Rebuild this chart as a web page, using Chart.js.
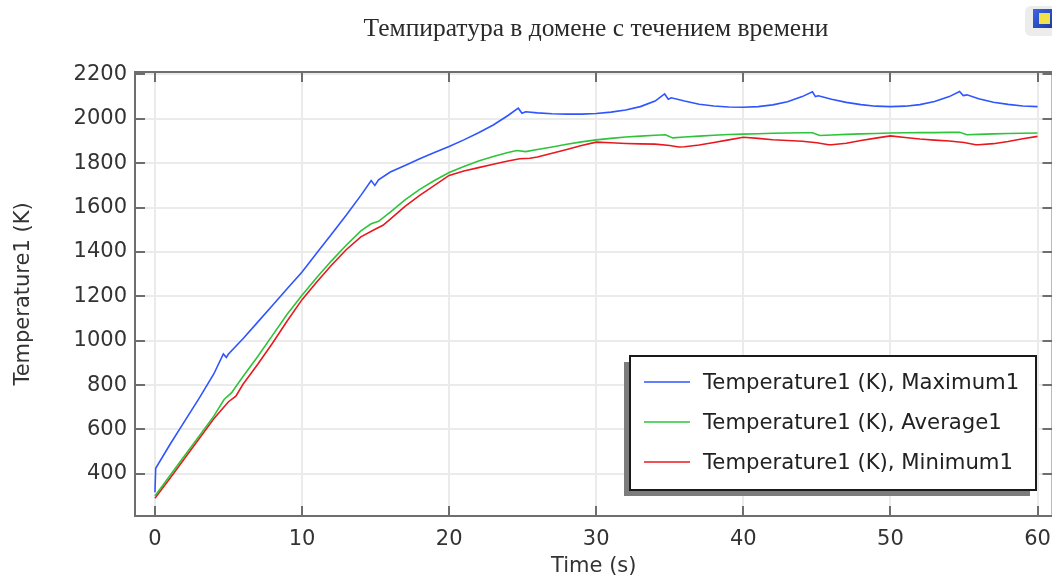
<!DOCTYPE html>
<html><head><meta charset="utf-8">
<script src="https://cdn.jsdelivr.net/npm/chart.js@4.4.0/dist/chart.umd.min.js"></script>
<style>
html,body{margin:0;padding:0;background:#fff;overflow:hidden;width:1052px;height:576px;}
#wrap{position:relative;width:1062px;height:600px;}
canvas{display:block;}
</style></head><body>
<div id="wrap"><canvas id="c" width="1062" height="600"></canvas></div>
<script>
const chartTitle = 'Темпиратура в домене с течением времени';
const xAxisTitle = 'Time (s)';
const yAxisTitle = 'Temperature1 (K)';
const seriesLabels = ['Temperature1 (K), Maximum1', 'Temperature1 (K), Average1', 'Temperature1 (K), Minimum1'];
const seriesColors = ['#2f55ff', '#2ec43a', '#e8191e'];
const xTicks = [0, 10, 20, 30, 40, 50, 60];
const yTicks = [400, 600, 800, 1000, 1200, 1400, 1600, 1800, 2000, 2200];

const timeMax = [0,0.05,1,2,3,4,4.65,4.85,5.0,6,7,8,9,10,11,12,13,14,14.7,14.95,15.2,16,17,18,19,20,21,22,23,24,24.7,24.95,25.2,26,27,28,29,30,31,32,33,34,34.65,34.9,35.1,36,37,38,39,40,41,42,43,44,44.7,44.9,45.1,46,47,48,49,50,51,52,53,54,54.7,54.95,55.2,56,57,58,59,60];
const tempMax = [317,425,530,635,740,850,940,925,940,1010,1085,1160,1235,1310,1395,1480,1565,1655,1722,1700,1725,1760,1790,1820,1848,1875,1905,1937,1972,2015,2048,2025,2032,2027,2023,2021,2021,2024,2030,2040,2055,2080,2112,2088,2095,2080,2066,2058,2053,2052,2055,2063,2077,2100,2122,2100,2104,2088,2074,2064,2057,2055,2057,2064,2078,2100,2123,2105,2108,2090,2075,2065,2058,2055];

const timeAvg = [0,1,2,3,4,4.7,5.2,6,7,8,9,10,11,12,13,14,14.7,15.2,16,17,18,19,20,21,22,23,24,24.6,25.2,26,27,28,29,30,31,32,33,34,34.7,35.2,36,37,38,39,40,41,42,43,44,44.7,45.2,46,47,48,49,50,51,52,53,54,54.7,55.2,56,57,58,59,60];
const tempAvg = [300,390,480,570,660,735,765,840,930,1025,1120,1205,1285,1360,1430,1495,1527,1538,1580,1635,1682,1722,1758,1785,1810,1830,1848,1857,1852,1862,1873,1885,1896,1905,1912,1918,1922,1926,1928,1914,1918,1922,1926,1929,1931,1933,1935,1936,1937,1937,1925,1927,1930,1932,1934,1936,1937,1938,1938,1939,1939,1928,1930,1932,1934,1935,1936];

const timeMin = [0,1,2,3,4,5,5.5,6,7,8,9,10,11,12,13,14,14.9,15.5,16,17,18,19,20,21,22,23,24,24.8,25.5,26,27,28,29,30,31,32,33,34,35,35.6,36,37,38,39,40,41,42,43,44,45,45.8,46,47,48,49,50,51,52,53,54,55,55.8,56,57,58,59,60];
const tempMin = [290,378,468,558,648,725,750,805,895,990,1090,1185,1265,1340,1410,1468,1500,1520,1548,1605,1655,1700,1745,1765,1780,1795,1810,1820,1822,1828,1845,1862,1880,1895,1892,1889,1887,1886,1880,1873,1874,1882,1893,1905,1917,1912,1906,1902,1899,1892,1883,1883,1890,1902,1913,1923,1916,1909,1904,1900,1893,1883,1883,1888,1898,1910,1921];

const toXY = (xs, ys) => xs.map((x, i) => ({x: x, y: ys[i]}));

const FONT = 'DejaVu Sans';
const AXIS_COLOR = '#6e6e6e';
const TEXT_COLOR = '#333333';

const framePlugin = {
  id: 'frame',
  beforeDatasetsDraw(chart) {
    const {ctx, chartArea: a, scales: {x, y}} = chart;
    ctx.save();
    ctx.strokeStyle = AXIS_COLOR;
    ctx.lineWidth = 2;
    ctx.beginPath();
    const tl = 10;
    xTicks.forEach(v => {
      const px = Math.round(x.getPixelForValue(v));
      ctx.moveTo(px, a.bottom); ctx.lineTo(px, a.bottom - tl);
      ctx.moveTo(px, a.top); ctx.lineTo(px, a.top + tl);
    });
    yTicks.forEach(v => {
      const py = Math.round(y.getPixelForValue(v));
      ctx.moveTo(a.left, py); ctx.lineTo(a.left + tl, py);
      ctx.moveTo(a.right, py); ctx.lineTo(a.right - tl, py);
    });
    ctx.stroke();
    ctx.strokeRect(a.left, a.top, a.right - a.left, a.bottom - a.top);
    ctx.restore();
  },
  afterDraw(chart) {
    const {ctx, chartArea: a} = chart;
    ctx.save();
    // title
    ctx.fillStyle = '#2a2a2a';
    ctx.font = '25.5px "Liberation Serif"';
    ctx.textAlign = 'center';
    ctx.textBaseline = 'middle';
    ctx.fillText(chartTitle, 596, 29);
    // legend
    const bx = 630, by = 356, bw = 406, bh = 134;
    ctx.fillStyle = '#7c7c7c';
    ctx.fillRect(bx - 6, by + 6, bw, bh);
    ctx.fillStyle = '#ffffff';
    ctx.fillRect(bx, by, bw, bh);
    ctx.strokeStyle = '#1a1a1a';
    ctx.lineWidth = 2;
    ctx.strokeRect(bx, by, bw, bh);
    ctx.font = '21.2px "' + FONT + '"';
    ctx.textAlign = 'left';
    ctx.textBaseline = 'middle';
    chart.data.datasets.forEach((ds, i) => {
      const ly = 382 + i * 40;
      ctx.strokeStyle = ds.borderColor;
      ctx.lineWidth = 1.6;
      ctx.beginPath(); ctx.moveTo(644, ly); ctx.lineTo(690, ly); ctx.stroke();
      ctx.fillStyle = '#222222';
      ctx.fillText(ds.label, 703, ly + 1);
    });
    // toolbar icon (top right)
    ctx.fillStyle = '#ececec';
    ctx.beginPath(); ctx.roundRect(1025, 6, 40, 30, 6); ctx.fill();
    const g = ctx.createLinearGradient(1033, 9, 1052, 28);
    g.addColorStop(0, '#3c66e0'); g.addColorStop(1, '#1c3aa8');
    ctx.fillStyle = g;
    ctx.fillRect(1033, 9, 30, 19);
    ctx.fillStyle = '#f1e24a';
    ctx.fillRect(1039, 13, 11, 11);
    ctx.restore();
  }
};

const tickFont = {family: FONT, size: 21};

new Chart(document.getElementById('c'), {
  type: 'line',
  data: {
    datasets: [
      {label: seriesLabels[0], data: toXY(timeMax, tempMax), borderColor: seriesColors[0]},
      {label: seriesLabels[1], data: toXY(timeAvg, tempAvg), borderColor: seriesColors[1]},
      {label: seriesLabels[2], data: toXY(timeMin, tempMin), borderColor: seriesColors[2]}
    ].map(d => Object.assign(d, {borderWidth: 1.6, pointRadius: 0, tension: 0, fill: false}))
  },
  options: {
    responsive: false,
    animation: false,
    layout: {padding: {left: 0, right: 7, top: 72, bottom: 0}},
    plugins: {legend: {display: false}, tooltip: {enabled: false}, title: {display: false}},
    scales: {
      x: {
        type: 'linear', min: -1.356, max: 61.02,
        afterBuildTicks: s => { s.ticks = xTicks.map(v => ({value: v})); },
        afterFit: s => { s.height = 84; },
        grid: {color: '#ebebeb', lineWidth: 2, drawTicks: false},
        border: {display: false},
        ticks: {font: tickFont, color: TEXT_COLOR, padding: 11, maxRotation: 0, autoSkip: false, callback: v => String(v)},
        title: {display: true, text: xAxisTitle, font: tickFont, color: TEXT_COLOR, padding: {top: 0, bottom: 20.5}}
      },
      y: {
        type: 'linear', min: 210, max: 2211,
        afterBuildTicks: s => { s.ticks = yTicks.map(v => ({value: v})); },
        afterFit: s => { s.width = 135; },
        grid: {color: '#ebebeb', lineWidth: 2, drawTicks: false},
        border: {display: false},
        ticks: {font: tickFont, color: TEXT_COLOR, padding: 8, autoSkip: false, callback: v => String(v)},
        title: {display: true, text: yAxisTitle, font: tickFont, color: TEXT_COLOR, padding: {top: 10.5, bottom: 0}}
      }
    }
  },
  plugins: [framePlugin]
});
</script>
</body></html>
